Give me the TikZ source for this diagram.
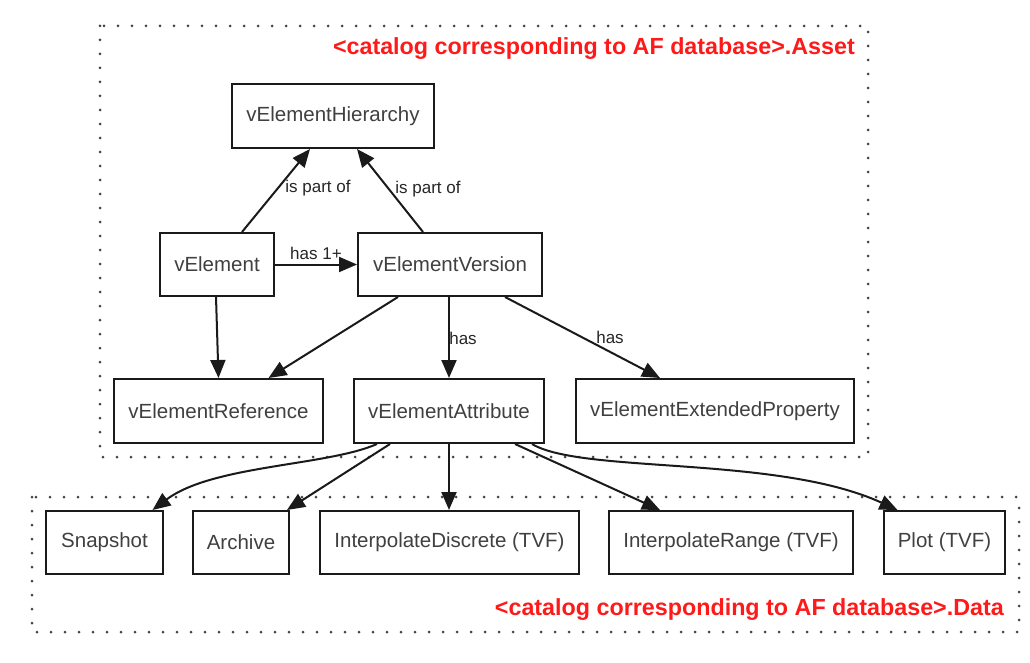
\documentclass[tikz,border=0pt]{standalone}
\usepackage{fontspec}
\setmainfont{Liberation Sans}
\usetikzlibrary{arrows.meta}
\definecolor{txtgray}{HTML}{404040}
\definecolor{linegray}{HTML}{1A1A1A}
\definecolor{dotgray}{HTML}{444444}
\definecolor{titlered}{HTML}{FF1A1A}
\begin{document}
\begin{tikzpicture}[x=1pt,y=-1pt,
  box/.style={draw=linegray,line width=2pt,inner sep=0pt,text=txtgray,
    font=\fontsize{20.5}{24}\selectfont,minimum height=63pt},
  conn/.style={draw=linegray,line width=2pt,-{Triangle[length=18pt,width=15pt]}},
  elabel/.style={font=\fontsize{17}{20}\selectfont,text=black!85,inner sep=0pt},
  cluster/.style={draw=dotgray,line width=3pt,dash pattern=on 0pt off 14pt,line cap=round},
  title/.style={font=\fontsize{23.3}{27}\selectfont\bfseries,text=titlered,inner sep=0pt}]
\useasboundingbox[fill=white] (0,0) rectangle (1030,663);
% clusters
\draw[cluster] (100,26) rectangle (868,457);
\draw[cluster] (32,497) rectangle (1019,632);
\node[title,anchor=base east] (tasset) at (855,55) {<catalog corresponding to AF database>.Asset};
\node[title,anchor=base east] (tdata) at (1004,615) {<catalog corresponding to AF database>.Data};
% nodes
\node[box,minimum width=202pt,minimum height=64pt] (H) at (333,116) {vElementHierarchy};
\node[box,minimum width=114pt] (E) at (217,264.5) {vElement};
\node[box,minimum width=184pt] (V) at (450,264.5) {vElementVersion};
\node[box,minimum width=209pt,minimum height=64pt] (R) at (218.5,411) {vElementReference};
\node[box,minimum width=190pt,minimum height=64pt] (A) at (449,411) {vElementAttribute};
\node[box,minimum width=278pt,minimum height=64pt] (X) at (715,411) {vElementExtendedProperty};
\node[box,minimum width=117pt] (S) at (104.5,542.5) {Snapshot};
\node[box,minimum width=96pt] (Ar) at (241,542.5) {Archive};
\node[box,minimum width=259pt] (ID) at (449.5,542.5) {InterpolateDiscrete (TVF)};
\node[box,minimum width=244pt] (IR) at (731,542.5) {InterpolateRange (TVF)};
\node[box,minimum width=121pt] (P) at (944.5,542.5) {Plot (TVF)};
% edges
\draw[conn] ([xshift=25pt]E.north) -- ([xshift=-23pt]H.south);
\draw[conn] ([xshift=-27pt]V.north) -- ([xshift=24pt]H.south);
\draw[conn] (E.east) -- (V.west);
\draw[conn] ([xshift=-1pt]E.south) -- (R.north);
\draw[conn] ([xshift=-52pt]V.south) -- ([xshift=50pt]R.north);
\draw[conn] ([xshift=-1pt]V.south) -- (A.north);
\draw[conn] ([xshift=55pt]V.south) -- ([xshift=-55pt]X.north);
\draw[conn] ([xshift=-72pt]A.south) .. controls +(-50,22) and +(60,-45) .. ([xshift=48pt]S.north);
\draw[conn] ([xshift=-59pt]A.south) -- ([xshift=46pt]Ar.north);
\draw[conn] (A.south) -- ([xshift=-0.5pt]ID.north);
\draw[conn] ([xshift=66pt]A.south) -- ([xshift=-71pt]IR.north);
\draw[conn] ([xshift=83pt]A.south) .. controls +(50,30) and +(-120,-55) .. ([xshift=-47pt]P.north);
% edge labels
\node[elabel] (l1) at (318,188) {is part of};
\node[elabel] (l2) at (428,189) {is part of};
\node[elabel] (l3) at (316,253) {has 1+};
\node[elabel] (l4) at (463,338) {has};
\node[elabel] (l5) at (610,337) {has};
\end{tikzpicture}
\end{document}
